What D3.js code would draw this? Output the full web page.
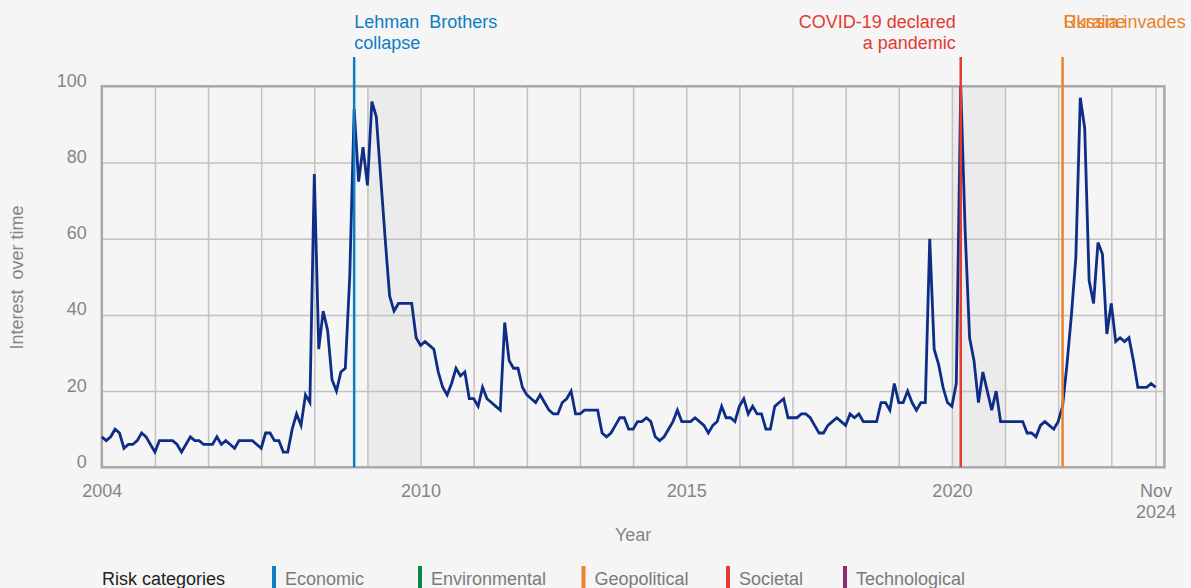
<!DOCTYPE html>
<html><head><meta charset="utf-8">
<script src="https://cdn.jsdelivr.net/npm/d3@7"></script>
<style>
html,body{margin:0;padding:0;background:#f5f5f5;}
svg{display:block;font-family:"Liberation Sans",Arial,Helvetica,sans-serif;}
</style></head><body>
<svg id="chart" width="1191" height="588"></svg>
<script>
// ---------- DATA ----------
// Monthly search interest (index 0 = Jan 2004)
const interest = [
  8,7,8,10,9,5,6,6,7,9,8,6,
  4,7,7,7,7,6,4,6,8,7,7,6,
  6,6,8,6,7,6,5,7,7,7,7,6,
  5,9,9,7,7,4,4,10,14,11,19,17,
  77,31,41,36,23,20,25,26,50,94,75,84,
  74,96,92,76,60,45,41,43,43,43,43,34,
  32,33,32,31,25,21,19,22,26,24,25,18,
  18,16,21,18,17,16,15,38,28,26,26,21,
  19,18,17,19,17,15,14,14,17,18,20,14,
  14,15,15,15,15,9,8,9,11,13,13,10,
  10,12,12,13,12,8,7,8,10,12,15,12,
  12,12,13,12,11,9,11,12,16,13,13,12,
  16,18,14,16,14,14,10,10,16,17,18,13,
  13,13,14,14,13,11,9,9,11,12,13,12,
  11,14,13,14,12,12,12,12,17,17,15,22,
  17,17,20,17,15,17,17,60,31,27,21,17,
  16,22,100,62,34,28,17,25,20,15,20,12,
  12,12,12,12,12,9,9,8,11,12,11,10,
  12,16,27,40,55,97,89,49,43,59,56,35,
  43,33,34,33,34,28,21,21,21,22,21
];
const xTickMonths = [0, 72, 132, 192, 238];
const xTickLabels = ["2004", "2010", "2015", "2020", "Nov\n2024"];
const yTicks = [0, 20, 40, 60, 80, 100];
const shadedStart = [60, 192];
const shadedEnd = [72, 204];
const eventMonths = [57, 194, 217];
const eventLabels = [["Lehman  Brothers", "collapse"], ["COVID-19 declared", "a pandemic"], ["Russia invades", "Ukraine"]];
const eventCategories = ["Economic", "Societal", "Geopolitical"];
const legendCategories = ["Economic", "Environmental", "Geopolitical", "Societal", "Technological"];
const categoryColors = ["#0f7dc2", "#0a8748", "#e8832a", "#e43a30", "#8d2a78"];
const xTitle = "Year";
const yTitle = "Interest  over time";
const legendTitle = "Risk categories";

// ---------- LAYOUT ----------
const W = 1191, H = 588;
const L = 101.8, R = 1164.4, T = 86.3, B = 467.3;
const svg = d3.select("#chart");
const color = d3.scaleOrdinal().domain(legendCategories).range(categoryColors);
const x = d3.scaleLinear().domain([0, 240]).range([L, R]);
const y = d3.scaleLinear().domain([0, 100]).range([B, T]);

svg.append("rect").attr("width", W).attr("height", H).attr("fill", "#f5f5f5");

// shaded periods
svg.append("g").selectAll("rect").data(shadedStart).join("rect")
  .attr("x", (d) => x(d)).attr("y", T)
  .attr("width", (d, i) => x(shadedEnd[i]) - x(d)).attr("height", B - T)
  .attr("fill", "#ebebeb");

// gridlines
const gridV = d3.range(12, 240, 12).concat([238]);
svg.append("g").attr("transform", `translate(0,${B})`)
  .call(d3.axisBottom(x).tickValues(gridV).tickSize(-(B - T)).tickFormat(""))
  .call(g => g.select(".domain").remove())
  .call(g => g.selectAll("line").attr("stroke", "#c2c2c2").attr("stroke-width", 1.5));
svg.append("g").attr("transform", `translate(${L},0)`)
  .call(d3.axisLeft(y).tickValues([20, 40, 60, 80]).tickSize(-(R - L)).tickFormat(""))
  .call(g => g.select(".domain").remove())
  .call(g => g.selectAll("line").attr("stroke", "#c2c2c2").attr("stroke-width", 1.5));

// plot border
svg.append("rect").attr("x", L).attr("y", T).attr("width", R - L).attr("height", B - T)
  .attr("fill", "none").attr("stroke", "#a9a9a9").attr("stroke-width", 2.5);

// data line
const line = d3.line().x((d, i) => x(i)).y(d => y(d));
svg.append("path").datum(interest).attr("d", line)
  .attr("fill", "none").attr("stroke", "#0d2d86").attr("stroke-width", 2.8)
  .attr("stroke-linejoin", "miter");

// event lines + labels
const anchors = ["start", "end", "start"];
const labelDx = [0, -5, 1];
const lineGap = [21, 21, 0];
eventMonths.forEach((m, i) => {
  const c = color(eventCategories[i]);
  svg.append("line").attr("x1", x(m)).attr("x2", x(m)).attr("y1", 57).attr("y2", B)
    .attr("stroke", c).attr("stroke-width", 2.5);
  eventLabels[i].forEach((t, j) => {
    svg.append("text").attr("x", x(m) + labelDx[i]).attr("y", 27.5 + j * lineGap[i])
      .attr("text-anchor", anchors[i]).attr("fill", c)
      .attr("font-size", 18).style("white-space", "pre").text(t);
  });
});

// y axis labels
svg.append("g").attr("transform", `translate(${L},0)`)
  .call(d3.axisLeft(y).tickValues(yTicks).tickSize(0).tickPadding(15))
  .call(g => g.select(".domain").remove())
  .call(g => g.selectAll("text").attr("dy", "0em").attr("font-size", 18)
    .attr("fill", "#858585").attr("font-family", null));

// x axis labels
const xAxisG = svg.append("g").attr("transform", `translate(0,${B})`)
  .call(d3.axisBottom(x).tickValues(xTickMonths).tickSize(0).tickPadding(17)
    .tickFormat((d, i) => xTickLabels[i]))
  .call(g => g.select(".domain").remove());
xAxisG.selectAll("text").attr("font-size", 18).attr("fill", "#858585").attr("font-family", null)
  .each(function(d, i) {
    const parts = xTickLabels[i].split("\n");
    const t = d3.select(this).text(null);
    parts.forEach((p, j) => {
      t.append("tspan").attr("x", 0).attr("dy", j === 0 ? "0.71em" : "1.18em").text(p);
    });
  }).attr("dy", null);

// axis titles
svg.append("text").attr("x", (L + R) / 2).attr("y", 541).attr("text-anchor", "middle")
  .attr("font-size", 18).attr("fill", "#858585").text(xTitle);
svg.append("text").attr("transform", `translate(23,277.5) rotate(-90)`).attr("text-anchor", "middle")
  .attr("font-size", 18).attr("fill", "#858585").style("white-space", "pre").text(yTitle);

// legend
svg.append("text").attr("x", 102).attr("y", 584.5).attr("font-size", 18).attr("fill", "#222")
  .text(legendTitle);
const legendX = [274, 420, 583.5, 728, 845];
const lg = svg.append("g").selectAll("g").data(legendCategories).join("g")
  .attr("transform", (d, i) => `translate(${legendX[i]},0)`);
lg.append("rect").attr("x", -2).attr("y", 566).attr("width", 4).attr("height", 24)
  .attr("fill", d => color(d));
lg.append("text").attr("x", 11).attr("y", 584.5).attr("font-size", 18).attr("fill", "#7a7a7a")
  .text(d => d);
</script>
</body></html>
